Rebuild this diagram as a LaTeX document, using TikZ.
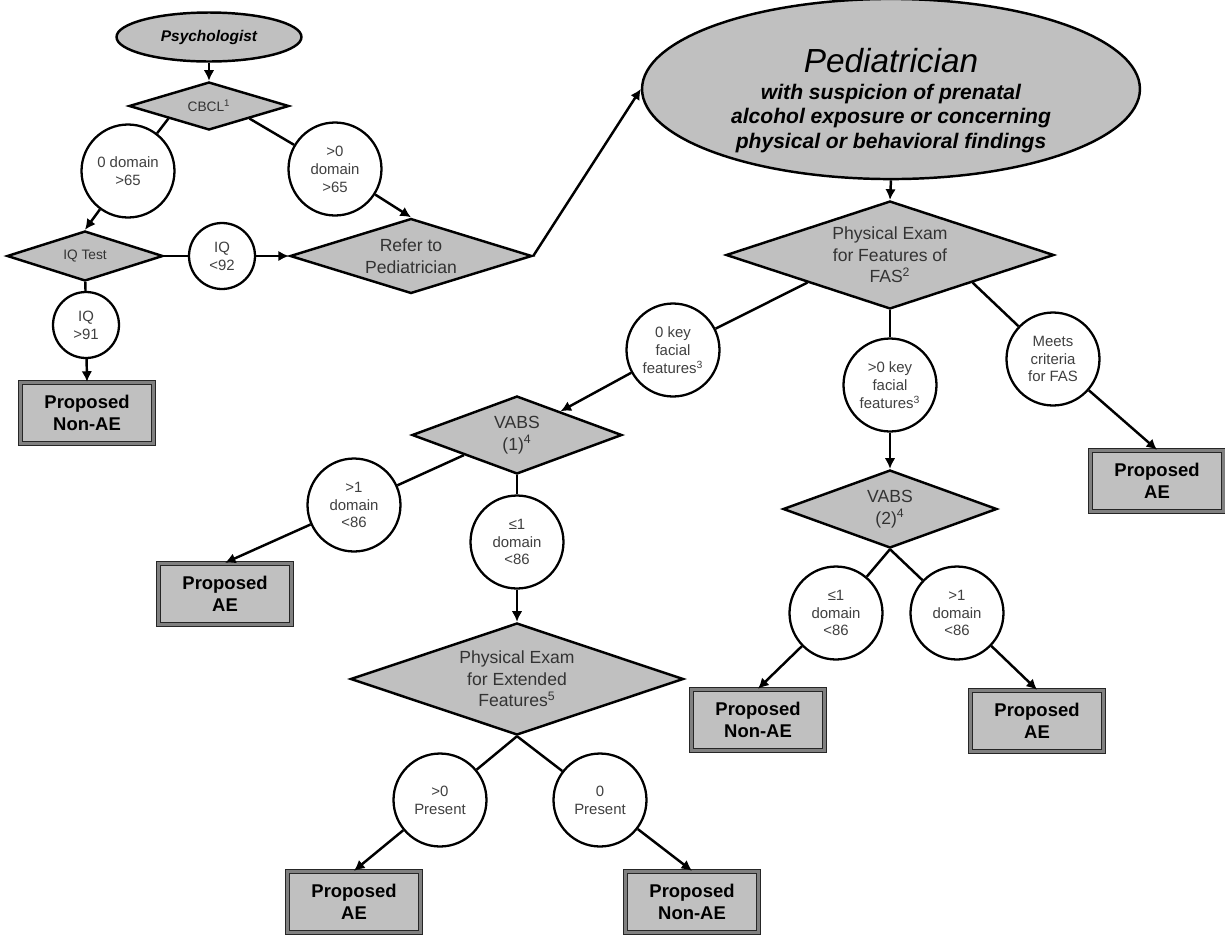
\documentclass[tikz,border=0pt]{standalone}
\usepackage{fontspec}
\setmainfont{Liberation Sans}
\usetikzlibrary{shapes.geometric,arrows.meta}
\definecolor{boxgray}{RGB}{192,192,192}
\tikzset{
	flow/.style={line width=1.4pt, -{Latex[length=6pt,width=6pt]}},
	link/.style={line width=1.4pt},
	choice/.style={diamond, draw, line width=1.4pt, fill=boxgray, inner sep=0pt, align=center, text=black!80, font=\fontsize{10}{12.3}\selectfont},
	smallchoice/.style={choice, font=\fontsize{7.8}{9.5}\selectfont},
	branch/.style={circle, draw, line width=1.3pt, fill=white, inner sep=0pt, minimum size=1.86cm, align=center, text=black!75, font=\fontsize{8.5}{10.2}\selectfont},
	smallbranch/.style={branch, minimum size=1.32cm},
	outcome/.style={rectangle, draw=black!85, line width=0.8pt, double=black!50, double distance=1.4pt, fill=boxgray, minimum width=2.66cm, minimum height=1.22cm, align=center, font=\bfseries\fontsize{10.5}{12.3}\selectfont},
	startnode/.style={ellipse, draw, line width=1.4pt, fill=boxgray, inner sep=0pt, align=center}
}
\begin{document}
\begin{tikzpicture}[x=0.02cm, y=-0.02cm]
			%%%%% START %%%%%
			\useasboundingbox (0, 0) rectangle (1225, 934);
			
			% psychologist side
			\node[startnode, minimum width=3.7cm, minimum height=0.98cm, font=\bfseries\itshape\fontsize{8.8}{10}\selectfont] (psy) at (209, 37) {Psychologist};
			\node[smallchoice, minimum width=3.2cm, minimum height=0.96cm, shape aspect=3.33] (cbcl) at (209, 106) {CBCL\textsuperscript{1}};
			\node[branch] (nodom) at (128, 171) {0 domain\\>65};
			\node[branch] (somedom) at (335, 169) {>0\\domain\\>65};
			\node[smallchoice, minimum width=3.12cm, minimum height=1cm, shape aspect=3.12] (iqtest) at (85, 256) {IQ Test};
			\node[smallbranch] (iqlow) at (222, 256) {IQ\\<92};
			\node[smallbranch] (iqhigh) at (86, 325) {IQ\\>91};
			\node[outcome] (nonaeA) at (87, 413) {Proposed\\Non-AE};
			\node[choice, minimum width=4.84cm, minimum height=1.5cm, shape aspect=3.23] (refer) at (411, 256) {Refer to\\Pediatrician};
			
			% pediatrician side
			\node[startnode, minimum width=9.96cm, minimum height=3.24cm, font=\bfseries\itshape\fontsize{12}{14}\selectfont] (ped) at (891, 89) {\rule{0pt}{27pt}{\mdseries\fontsize{19}{22}\selectfont Pediatrician}\\[1pt]with suspicion of prenatal\\alcohol exposure or concerning\\physical or behavioral findings};
			\node[choice, minimum width=6.56cm, minimum height=2.16cm, shape aspect=3.04] (fas) at (890, 255) {Physical Exam\\for Features of\\FAS\textsuperscript{2}};
			\node[branch] (nokey) at (673, 350) {0 key\\facial\\features\textsuperscript{3}};
			\node[branch] (somekey) at (890, 385) {>0 key\\facial\\features\textsuperscript{3}};
			\node[branch] (meets) at (1053, 359) {Meets\\criteria\\for FAS};
			\node[outcome] (aeA) at (1157, 481) {Proposed\\AE};
			
			\node[choice, minimum width=4.2cm, minimum height=1.56cm, shape aspect=2.69] (vabsA) at (517, 435) {VABS\\(1)\textsuperscript{4}};
			\node[branch] (manydomA) at (354, 505) {>1\\domain\\<86};
			\node[branch] (fewdomA) at (517, 542) {≤1\\domain\\<86};
			\node[outcome] (aeB) at (225, 594) {Proposed\\AE};
			\node[choice, minimum width=6.66cm, minimum height=2.24cm, shape aspect=2.97] (ext) at (517, 679) {Physical Exam\\for Extended\\Features\textsuperscript{5}};
			\node[branch] (present) at (440, 800) {>0\\Present};
			\node[branch] (absent) at (600, 800) {0\\Present};
			\node[outcome] (aeC) at (354, 902) {Proposed\\AE};
			\node[outcome] (nonaeB) at (692, 902) {Proposed\\Non-AE};
			
			\node[choice, minimum width=4.28cm, minimum height=1.56cm, shape aspect=2.74] (vabsB) at (890, 509) {VABS\\(2)\textsuperscript{4}};
			\node[branch] (fewdomB) at (836, 613) {≤1\\domain\\<86};
			\node[branch] (manydomB) at (957, 613) {>1\\domain\\<86};
			\node[outcome] (nonaeC) at (758, 720) {Proposed\\Non-AE};
			\node[outcome] (aeD) at (1037, 721) {Proposed\\AE};
			
			% connectors
			\draw[flow] (psy.south) -- (cbcl.north);
			\draw[link] (cbcl.south west) -- (nodom);
			\draw[flow] (nodom) -- (iqtest.north);
			\draw[link] (cbcl.south east) -- (somedom);
			\draw[flow] (somedom) -- (refer.north);
			\draw[link] (iqtest) -- (iqlow);
			\draw[flow] (iqlow) -- (refer.west);
			\draw[link] (iqtest) -- (iqhigh);
			\draw[flow] (iqhigh) -- (nonaeA.north);
			\draw[flow] (refer.east) -- (ped.west);
			
			\draw[flow] (ped.south) -- (fas.north);
			\draw[link] (fas.south west) -- (nokey);
			\draw[flow] (nokey) -- (vabsA);
			\draw[link] (fas.south) -- (somekey);
			\draw[flow] (somekey) -- (vabsB.north);
			\draw[link] (fas.south east) -- (meets);
			\draw[flow] (meets) -- (aeA.north);
			
			\draw[link] (vabsA.south west) -- (manydomA);
			\draw[flow] (manydomA) -- (aeB.north);
			\draw[link] (vabsA.south) -- (fewdomA);
			\draw[flow] (fewdomA) -- (ext.north);
			\draw[link] (ext.south) -- (present);
			\draw[flow] (present) -- (aeC.north);
			\draw[link] (ext.south) -- (absent);
			\draw[flow] (absent) -- (nonaeB.north);
			
			\draw[link] (vabsB.south) -- (fewdomB);
			\draw[flow] (fewdomB) -- (nonaeC.north);
			\draw[link] (vabsB.south) -- (manydomB);
			\draw[flow] (manydomB) -- (aeD.north);
			%%%%% END %%%%%
\end{tikzpicture}
\end{document}
